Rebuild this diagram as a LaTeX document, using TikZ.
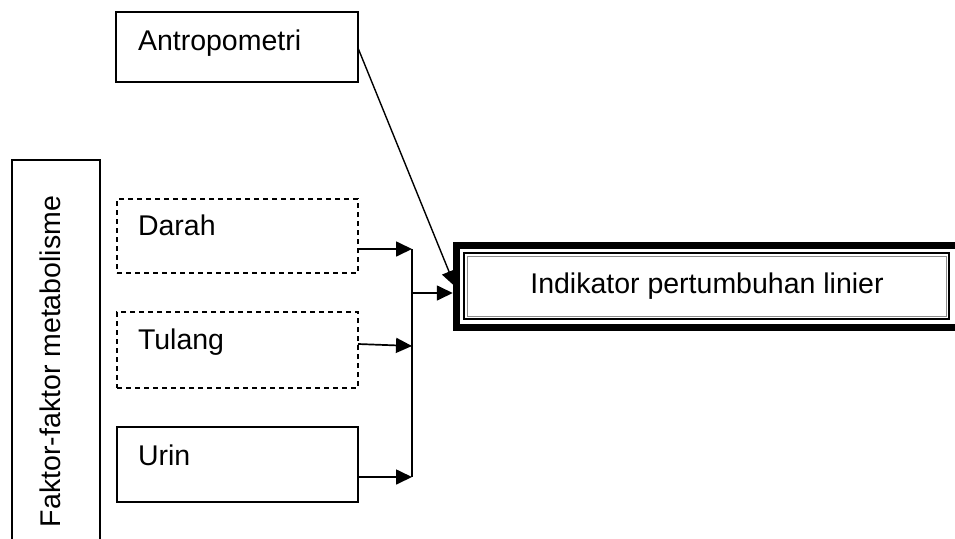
\documentclass[tikz,border=0pt]{standalone}
\usepackage{fontspec}
\setmainfont{Liberation Sans}
\usetikzlibrary{arrows.meta}
\begin{document}
\begin{tikzpicture}[x=1pt, y=-1pt,
  font=\fontsize{28.5}{34}\selectfont,
  every node/.style={outer sep=0pt},
  box/.style={draw, line width=1.7pt, minimum width=241pt, inner sep=0pt, anchor=north west},
  dbox/.style={box, dash pattern=on 5pt off 4pt},
  lbl/.style={anchor=base west, inner sep=0pt},
  link/.style={line width=1.7pt},
  arr/.style={link, -{Triangle[length=16pt, width=15pt]}}]
\useasboundingbox (0,0) rectangle (955,538);
\clip (0,0) rectangle (955,538);

% group frame on the left, open at the bottom
\node[draw, line width=1.7pt, minimum width=88pt, minimum height=420pt, inner sep=0pt, anchor=north west] (meta) at (12,160) {};
\node[rotate=90, anchor=base, inner sep=0pt] (metalbl) at (60,361.5) {Faktor-faktor metabolisme};

% source boxes
\node[box, minimum width=242pt, minimum height=70pt] (antro) at (116,12) {};
\node[lbl] (antrolbl) at (138,50) {Antropometri};

\node[dbox, minimum height=74pt] (darah) at (117,199) {};
\node[lbl] (darahlbl) at (138,235) {Darah};

\node[dbox, minimum height=76pt] (tulang) at (117,312) {};
\node[lbl] (tulanglbl) at (138,349) {Tulang};

\node[box, minimum height=75pt] (urin) at (117,427) {};
\node[lbl] (urinlbl) at (138,465) {Urin};

% target box with heavy frame and thin inner rules
\node[draw, line width=7.5pt, minimum width=510pt, minimum height=82pt, inner sep=0pt, anchor=north west] (ind) at (456.5,245.5) {};
\draw[line width=2pt] ([shift={(7.5,7.5)}]ind.north west) rectangle ([shift={(-17.5,-8.5)}]ind.south east);
\draw[line width=0.9pt, black!45] ([shift={(10.5,10.5)}]ind.north west) rectangle ([shift={(-20.5,-11.5)}]ind.south east);
\node[anchor=base, inner sep=0pt] (indlbl) at (707,293) {Indikator pertumbuhan linier};

% collecting bar and arrows
\coordinate (jt) at (412,249);
\coordinate (jm) at (412,346);
\coordinate (jb) at (412,477);
\coordinate (jo) at (412,293);
\coordinate (slant) at (456.5,290);

\draw[link] (jt) -- (jb);
\draw[arr] (darah.east |- jt) -- (jt);
\draw[arr] ([yshift=6pt]tulang.east) -- (jm);
\draw[arr] (urin.east |- jb) -- (jb);
\draw[arr, shorten >=3.75pt] (jo) -- (jo -| ind.west);
\draw[arr, line width=1.4pt, shorten >=3.75pt] ([yshift=-1pt]antro.east) -- (slant);
\end{tikzpicture}
\end{document}
